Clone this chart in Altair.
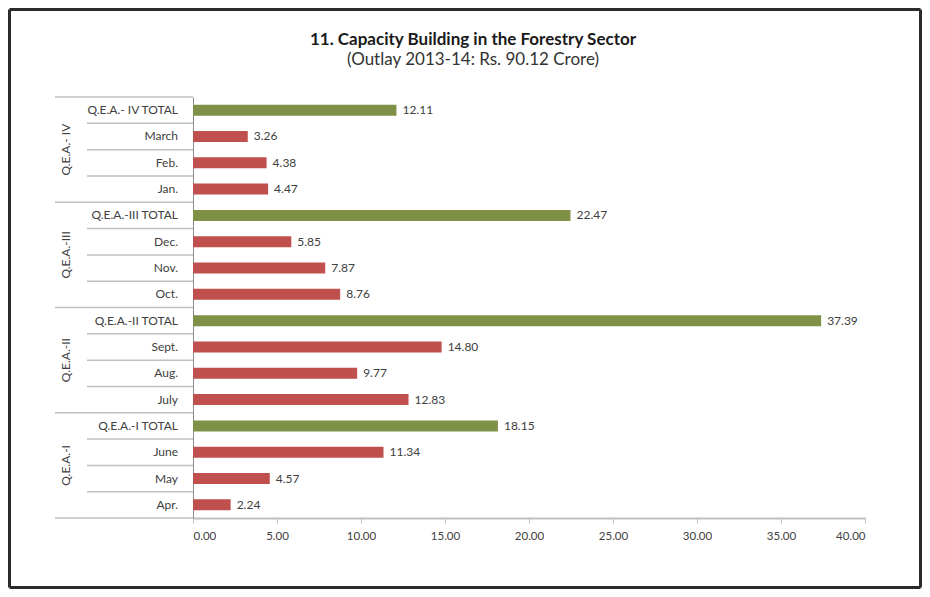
import altair as alt
import pandas as pd

categories = ["Q.E.A.- IV TOTAL", "March", "Feb.", "Jan.",
              "Q.E.A.-III TOTAL", "Dec.", "Nov.", "Oct.",
              "Q.E.A.-II TOTAL", "Sept.", "Aug.", "July",
              "Q.E.A.-I TOTAL", "June", "May", "Apr."]
values = [12.11, 3.26, 4.38, 4.47,
          22.47, 5.85, 7.87, 8.76,
          37.39, 14.80, 9.77, 12.83,
          18.15, 11.34, 4.57, 2.24]
groups = ["Q.E.A.- IV", "Q.E.A.-III", "Q.E.A.-II", "Q.E.A.-I"]
x_ticks = [0, 5, 10, 15, 20, 25, 30, 35, 40]
title_text = ["11. Capacity Building in the Forestry Sector"]
subtitle_text = ["(Outlay 2013-14: Rs. 90.12 Crore)"]

FONT = "Lato"
W, H = 672, 421
PAD = {"left": 185, "top": 89, "right": 57, "bottom": 71}

bars = pd.DataFrame({
    "cat": categories,
    "val": values,
    "row": list(range(len(categories))),
    "kind": ["total" if "TOTAL" in c else "month" for c in categories],
})
grp = pd.DataFrame({"group": groups, "g": list(range(len(groups)))})
n = len(categories)
lines = pd.DataFrame({"k": list(range(n + 1))})
lines["major"] = [int(k % 4 == 0) for k in lines["k"]]
one = pd.DataFrame({"a": [0]})

yscale = alt.Scale(domain=[0, n], reverse=True, nice=False, zero=False)
xscale = alt.Scale(domain=[0, 40], nice=False)
yaxis = alt.Axis(labels=False, ticks=False, grid=False, title=None,
                 domainColor="#8C8C8C", domainWidth=1)

base = alt.Chart(bars)

bar = base.mark_bar().transform_calculate(
    y0="datum.row + 0.29", y1="datum.row + 0.71", x0="0"
).encode(
    x=alt.X("val:Q", scale=xscale,
            axis=alt.Axis(values=x_ticks, format=".2f", grid=False, tickSize=5,
                          domainColor="#BFBFBF", domainWidth=2, tickColor="#BFBFBF",
                          labelColor="#404040", labelFontSize=11.5, labelFont=FONT,
                          labelPadding=7, title=None)),
    x2="x0:Q",
    y=alt.Y("y0:Q", scale=yscale, axis=yaxis),
    y2="y1:Q",
    color=alt.Color("kind:N", scale=alt.Scale(domain=["total", "month"],
                                              range=["#7F9147", "#C0504D"]), legend=None),
)

vlabels = base.mark_text(align="left", baseline="middle", dx=6, font=FONT,
                         fontSize=12, color="#404040").transform_calculate(
    yc="datum.row + 0.5", lbl="format(datum.val, '.2f')"
).encode(
    x=alt.X("val:Q", scale=xscale),
    y=alt.Y("yc:Q", scale=yscale, axis=yaxis),
    text="lbl:N",
)

clabels = base.mark_text(align="right", baseline="middle", font=FONT,
                         fontSize=12, color="#404040").transform_calculate(
    yc="datum.row + 0.5"
).encode(
    x=alt.value(-15),
    y=alt.Y("yc:Q", scale=yscale, axis=yaxis),
    text="cat:N",
)

glabels = alt.Chart(grp).mark_text(align="center", baseline="middle", angle=270,
                                   font=FONT, fontSize=12, color="#404040").transform_calculate(
    yc="datum.g * 4 + 2"
).encode(
    x=alt.value(-127),
    y=alt.Y("yc:Q", scale=yscale, axis=yaxis),
    text="group:N",
)

minor = alt.Chart(lines).transform_filter("datum.major == 0").mark_rule(
    color="#BFBFBF", strokeWidth=1.5).encode(
    y=alt.Y("k:Q", scale=yscale, axis=yaxis), x=alt.value(-106), x2=alt.value(0))
major = alt.Chart(lines).transform_filter("datum.major == 1").mark_rule(
    color="#BFBFBF", strokeWidth=1.5).encode(
    y=alt.Y("k:Q", scale=yscale, axis=yaxis), x=alt.value(-138), x2=alt.value(0))

L, R = -PAD["left"] + 1.5, W + PAD["right"] - 1.5
T, B = -PAD["top"] + 1.5, H + PAD["bottom"] - 1.5
bc = alt.Chart(one).mark_rule(color="#2b2b2b", strokeWidth=3)
border = [
    bc.encode(x=alt.value(L), x2=alt.value(R), y=alt.value(T)),
    bc.encode(x=alt.value(L), x2=alt.value(R), y=alt.value(B)),
    bc.encode(y=alt.value(T), y2=alt.value(B), x=alt.value(L)),
    bc.encode(y=alt.value(T), y2=alt.value(B), x=alt.value(R)),
]

title = alt.Chart(pd.DataFrame({"t": title_text})).mark_text(
    font=FONT, fontSize=17, fontWeight="bold", color="#1a1a1a",
    align="center", baseline="alphabetic").encode(
    text="t:N", x=alt.value(280), y=alt.value(-52))
subtitle = alt.Chart(pd.DataFrame({"t": subtitle_text})).mark_text(
    font=FONT, fontSize=17, color="#333333",
    align="center", baseline="alphabetic").encode(
    text="t:N", x=alt.value(280), y=alt.value(-32))

chart = alt.layer(minor, major, bar, vlabels, clabels, glabels, title, subtitle,
                  *border).properties(
    width=W, height=H, padding=PAD,
    autosize=alt.AutoSizeParams(type="none"),
    background="white",
).configure_view(stroke=None)

chart.save("out.html", embed_options={"renderer": "svg", "actions": False})
